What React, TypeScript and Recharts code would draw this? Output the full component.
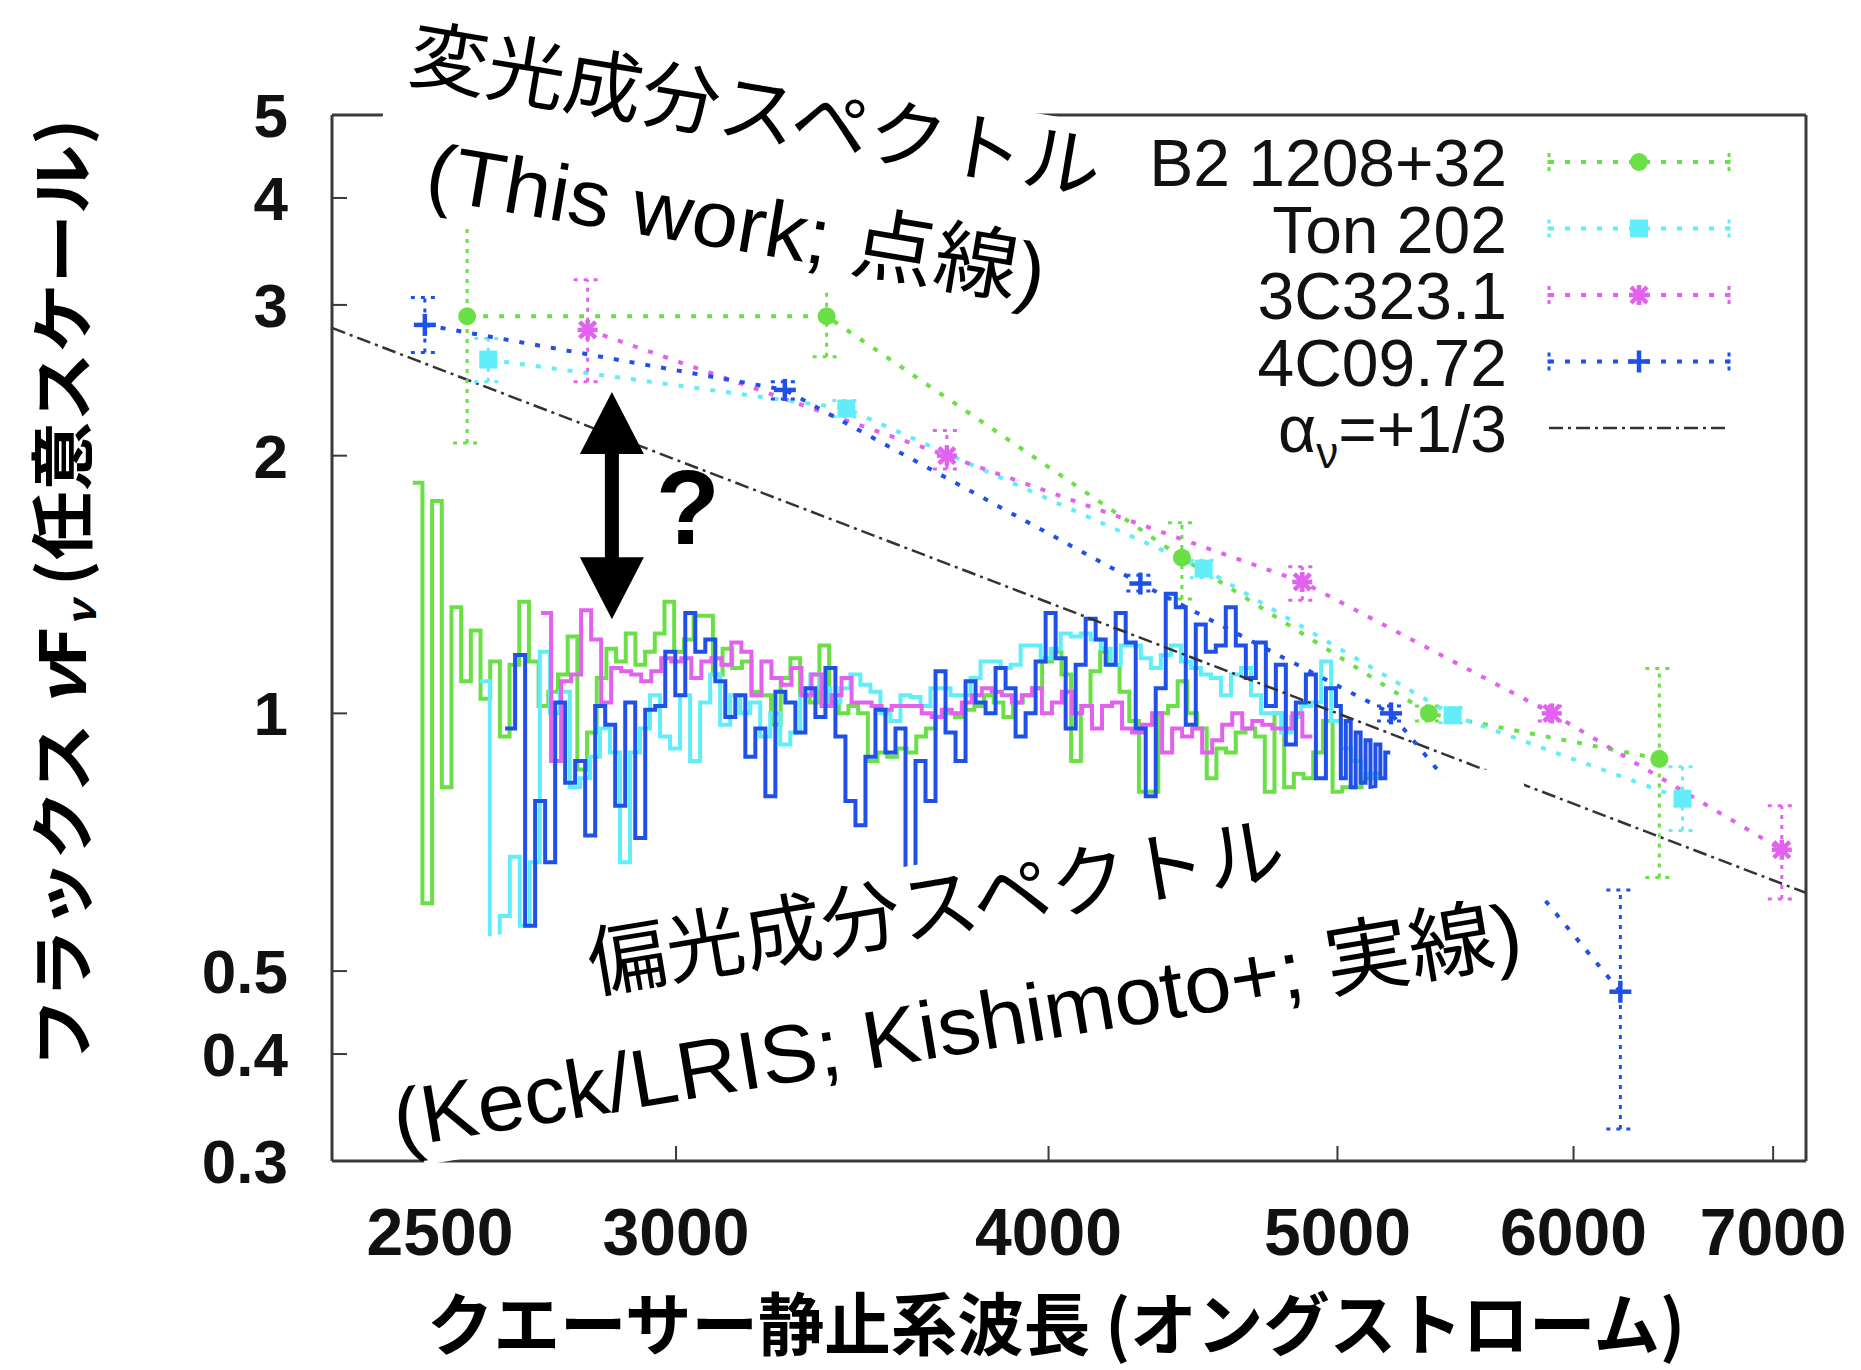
import React from 'react';
import { ComposedChart, Line, XAxis, YAxis, ErrorBar, ReferenceLine } from 'recharts';

const WIDTH = 1861;
const HEIGHT = 1370;

const FRAME = '#3a3a3a';
const SANS = '"Liberation Sans", Arial, sans-serif';
const JP = '"Noto Sans CJK JP", sans-serif';
const MIXED = '"Liberation Sans", "Noto Sans CJK JP", sans-serif';

const GREEN = '#6ae046';
const CYAN = '#62eef9';
const MAGENTA = '#e262ef';
const BLUE = '#1f50e8';

const xTicks = [2500, 3000, 4000, 5000, 6000, 7000];
const yTicks = [0.3, 0.4, 0.5, 1, 2, 3, 4, 5];

// variable component (this work): rest wavelength [A], nuFnu, error range
const b2Wave = [2553, 3370, 4434, 5366, 6411];
const b2Flux = [2.91, 2.91, 1.52, 1.0, 0.885];
const b2Low = [2.07, 2.61, 1.36, 0.98, 0.643];
const b2High = [3.9, 3.3, 1.67, 1.02, 1.128];

const tonWave = [2595, 3422, 4509, 5465, 6527];
const tonFlux = [2.59, 2.27, 1.476, 0.995, 0.795];
const tonLow = [2.44, 2.22, 1.44, 0.975, 0.73];
const tonHigh = [2.74, 2.32, 1.51, 1.015, 0.866];

const c3Wave = [2802, 3698, 4866, 5900, 7047];
const c3Flux = [2.805, 2.0, 1.424, 1.0, 0.693];
const c3Low = [2.44, 1.93, 1.356, 0.98, 0.607];
const c3High = [3.21, 2.14, 1.483, 1.02, 0.78];

const c4Wave = [2471, 3263, 4294, 5211, 6221];
const c4Flux = [2.843, 2.387, 1.418, 1.0, 0.473];
const c4Low = [2.64, 2.33, 1.39, 0.98, 0.327];
const c4High = [3.06, 2.44, 1.45, 1.02, 0.622];

// alpha_nu = +1/3 power law, normalised at 5000 A
const alphaWave = [2300, 7180];
const alphaFlux = [2.82, 0.617];

// polarized-flux spectra (Keck/LRIS), bins evenly spaced in log wavelength
const b2SpecRange = [2448, 5171];
const b2Spec = [
  1.86, 0.6, 1.77, 0.82, 1.33, 1.09, 1.25, 1.04, 1.15, 0.94,
  1.14, 1.35, 1.15, 1.02, 1.06, 1.11, 1.23, 0.86, 0.95, 1.1,
  1.19, 1.15, 1.24, 1.14, 1.18, 1.24, 1.35, 1.18, 1.22, 1.3,
  1.3, 1.11, 1.19, 1.13, 1.15, 1.06, 1.05, 0.97, 1.1, 1.16,
  1.05, 1.03, 1.2, 1.03, 1.0, 1.02, 1.0, 0.88, 0.9, 0.89,
  0.91, 0.9, 0.94, 0.96, 0.99, 1.0, 0.99, 1.01, 1.02, 1.05,
  1.03, 0.99, 1.03, 1.05, 1.07, 1.15, 1.18, 1.11, 0.88, 1.02,
  1.12, 1.18, 1.14, 1.06, 0.98, 0.81, 0.81, 1.0, 1.02, 1.09,
  1.0, 0.96, 0.84, 0.91, 0.9, 0.95, 0.96, 0.94, 0.81, 1.0,
  0.82, 0.85, 0.84, 0.9, 0.98, 0.81, 0.82, 0.82, 0.84, 0.85,
];

const tonSpecRange = [2578, 5172];
const tonSpec = [
  1.09, 0.54, 0.58, 0.68, 0.565, 0.67, 1.18, 1.0, 1.06, 0.82,
  0.84, 0.89, 0.96, 0.9, 0.67, 0.9, 0.96, 1.05, 0.94, 0.91,
  1.05, 0.88, 1.03, 1.11, 0.97, 1.05, 1.0, 1.03, 0.94, 1.0,
  0.92, 0.95, 1.05, 1.11, 1.07, 1.03, 1.07, 1.11, 1.08, 1.06,
  1.0, 0.98, 1.05, 1.045, 1.02, 1.07, 1.07, 1.05, 1.05, 1.1,
  1.15, 1.15, 1.13, 1.14, 1.2, 1.2, 1.16, 1.19, 1.24, 1.23,
  1.24, 1.22, 1.19, 1.14, 1.2, 1.2, 1.16, 1.13, 1.17, 1.2,
  1.15, 1.13, 1.11, 1.1, 1.05, 1.11, 1.13, 1.05, 1.0, 1.0,
  0.95, 0.99, 1.02, 1.03, 1.15, 0.98, 0.91, 0.88, 0.85, 0.84,
];

const c3SpecRange = [2703, 4904];
const c3Spec = [
  1.31, 0.88, 1.09, 1.11, 1.32, 1.22, 1.03, 1.13, 1.12, 1.11,
  1.09, 1.12, 1.16, 1.15, 1.16, 1.1, 1.15, 1.16, 1.14, 1.21,
  1.18, 1.05, 1.15, 1.1, 1.08, 1.13, 1.05, 1.11, 1.02, 1.05,
  1.1, 1.03, 1.03, 1.02, 1.01, 1.02, 1.02, 1.02, 1.0, 0.99,
  1.01, 1.0, 1.03, 1.05, 1.07, 1.06, 1.05, 1.03, 1.05, 1.07,
  1.0, 1.03, 1.06, 1.0, 1.02, 0.96, 1.02, 1.03, 0.96, 0.95,
  0.97, 1.0, 0.9, 0.96, 0.94, 0.96, 0.9, 0.93, 0.97, 1.0,
  0.96, 0.98, 0.97, 0.96, 0.96, 1.0, 0.94,
];

const c4SpecRange = [2629, 4994];
const c4Spec = [
  0.96, 1.17, 0.565, 0.79, 0.67, 1.03, 0.83, 0.88, 0.72, 1.02,
  0.97, 0.78, 1.03, 0.715, 1.01, 1.02, 1.18, 1.05, 1.31, 1.18,
  1.22, 1.09, 0.99, 1.05, 0.89, 0.96, 0.8, 1.06, 1.03, 0.95,
  1.07, 0.99, 1.13, 0.94, 0.79, 0.74, 0.89, 1.01, 0.9, 0.96,
  0.6, 0.88, 0.79, 1.12, 0.95, 0.88, 1.09, 1.03, 1.0, 1.13,
  1.07, 0.94, 1.0, 1.15, 1.31, 1.16, 0.96, 1.14, 1.29, 1.22,
  1.14, 1.31, 1.21, 0.96, 0.8, 1.07, 1.38, 1.33, 0.97, 1.27,
  1.18, 1.2, 1.33, 1.2, 1.1, 1.21, 1.02, 1.14, 0.92, 1.03,
  1.11, 0.84, 1.07,
];
// red end is binned more finely
const c4TailRange = [4994, 5208];
const c4Tail = [1.02, 0.84, 0.98, 0.82, 0.95, 0.83, 0.93, 0.82, 0.92, 0.84, 0.9];

type Pt = { w: number; f: number; err?: number[] };

const toPoints = (wave: number[], flux: number[], lo: number[], hi: number[]): Pt[] =>
  wave.map((w, i) => ({ w, f: flux[i], err: [flux[i] - lo[i], hi[i] - flux[i]] }));

const toSteps = (range: number[], values: number[]): Pt[] => {
  const [lo, hi] = range;
  const n = values.length;
  const pts = values.map((f, i) => ({ w: lo * Math.pow(hi / lo, i / n), f }));
  pts.push({ w: hi, f: values[n - 1] });
  return pts;
};

const series = [
  {
    name: 'B2 1208+32',
    color: GREEN,
    marker: 'circle',
    points: toPoints(b2Wave, b2Flux, b2Low, b2High),
    spectrum: toSteps(b2SpecRange, b2Spec),
  },
  {
    name: 'Ton 202',
    color: CYAN,
    marker: 'square',
    points: toPoints(tonWave, tonFlux, tonLow, tonHigh),
    spectrum: toSteps(tonSpecRange, tonSpec),
  },
  {
    name: '3C323.1',
    color: MAGENTA,
    marker: 'star',
    points: toPoints(c3Wave, c3Flux, c3Low, c3High),
    spectrum: toSteps(c3SpecRange, c3Spec),
  },
  {
    name: '4C09.72',
    color: BLUE,
    marker: 'plus',
    points: toPoints(c4Wave, c4Flux, c4Low, c4High),
    spectrum: [...toSteps(c4SpecRange, c4Spec), ...toSteps(c4TailRange, c4Tail)],
  },
];

const alphaLine = alphaWave.map((w, i) => ({ w, f: alphaFlux[i] }));

// the "?" arrow between the two spectra
const arrowWave = 2855;
const arrowTop = 2.374;
const arrowBottom = 1.288;

const Marker = ({ kind, cx, cy, color }: { kind: string; cx: number; cy: number; color: string }) => {
  if (kind === 'circle') return <circle cx={cx} cy={cy} r={9} fill={color} />;
  if (kind === 'square') return <rect x={cx - 9} y={cy - 9} width={18} height={18} fill={color} />;
  if (kind === 'star')
    return (
      <g stroke={color} strokeWidth={4.5}>
        <line x1={cx - 10} x2={cx + 10} y1={cy} y2={cy} />
        <line x1={cx} x2={cx} y1={cy - 10} y2={cy + 10} />
        <line x1={cx - 8} y1={cy - 8} x2={cx + 8} y2={cy + 8} />
        <line x1={cx - 8} y1={cy + 8} x2={cx + 8} y2={cy - 8} />
      </g>
    );
  return (
    <g stroke={color} strokeWidth={4.5}>
      <line x1={cx - 11} x2={cx + 11} y1={cy} y2={cy} />
      <line x1={cx} x2={cx} y1={cy - 11} y2={cy + 11} />
    </g>
  );
};

const XTick = (props: any) => {
  const { x, y, payload } = props;
  return (
    <g>
      <line x1={x} y1={y} x2={x} y2={y - 15} stroke={FRAME} strokeWidth={2} />
      <text x={x} y={y + 94} textAnchor="middle" fontSize={66} fontWeight={700} fontFamily={SANS} fill="#111">
        {payload.value}
      </text>
    </g>
  );
};

const YTick = (props: any) => {
  const { x, y, payload } = props;
  return (
    <g>
      <line x1={x} y1={y} x2={x + 15} y2={y} stroke={FRAME} strokeWidth={2} />
      <text x={x - 44} y={y + 22} textAnchor="end" fontSize={62} fontWeight={700} fontFamily={SANS} fill="#111">
        {payload.value}
      </text>
    </g>
  );
};

const ArrowShape = (props: any) => {
  const { x1, y1, y2 } = props;
  const top = Math.min(y1, y2);
  const bottom = Math.max(y1, y2);
  const head = 62;
  const half = 32;
  return (
    <g>
      <rect x={x1 - 7} y={top + head - 2} width={14} height={bottom - top - 2 * head + 4} fill="#000" />
      <polygon points={`${x1},${top} ${x1 - half},${top + head} ${x1 + half},${top + head}`} fill="#000" />
      <polygon points={`${x1},${bottom} ${x1 - half},${bottom - head} ${x1 + half},${bottom - head}`} fill="#000" />
      <text x={x1 + 76} y={(top + bottom) / 2 + 38} textAnchor="middle" fontSize={105} fontWeight={700} fontFamily={SANS} fill="#000">
        ?
      </text>
    </g>
  );
};

const Legend = () => (
  <g>
    {series.map((s, i) => {
      const base = 186 + i * 66.5;
      const mid = base - 24;
      return (
        <g key={s.name}>
          <text x={1507} y={base} textAnchor="end" fontSize={66} fontFamily={SANS} fill="#111">
            {s.name}
          </text>
          <line x1={1549} x2={1729} y1={mid} y2={mid} stroke={s.color} strokeWidth={4} strokeDasharray="5 11" />
          <line x1={1549} x2={1549} y1={mid - 9} y2={mid + 9} stroke={s.color} strokeWidth={3} strokeDasharray="4 3" />
          <line x1={1729} x2={1729} y1={mid - 9} y2={mid + 9} stroke={s.color} strokeWidth={3} strokeDasharray="4 3" />
          <Marker kind={s.marker} cx={1639} cy={mid} color={s.color} />
        </g>
      );
    })}
    <text x={1507} y={186 + 4 * 66.5} textAnchor="end" fontSize={66} fontFamily={SANS} fill="#111">
      α<tspan fontSize={44} dy={16}>ν</tspan>
      <tspan dy={-16}>=+1/3</tspan>
    </text>
    <line x1={1549} x2={1729} y1={162 + 4 * 66.5} y2={162 + 4 * 66.5} stroke="#333" strokeWidth={2.5} strokeDasharray="14 5 3 5" />
  </g>
);

const Overlay = () => (
  <svg width={WIDTH} height={HEIGHT} style={{ position: 'absolute', left: 0, top: 0, pointerEvents: 'none' }}>
    {/* white label panels */}
    <rect x={-367} y={-103} width={735} height={207} fill="#fff" transform="translate(746 169) rotate(9.5)" />
    <rect x={-573} y={-107} width={1147} height={215} fill="#fff" transform="translate(972 964) rotate(-9.5)" />

    <text x={406} y={80} transform="rotate(9.5 406 80)" fontSize={76} fontFamily={MIXED} fill="#000" textLength={700} lengthAdjust="spacingAndGlyphs">
      変光成分スペクトル
    </text>
    <text x={423} y={198} transform="rotate(9.5 423 198)" fontSize={80} fontFamily={MIXED} fill="#000" textLength={626} lengthAdjust="spacingAndGlyphs">
      (This work; 点線)
    </text>
    <text x={593} y={992} transform="rotate(-9.5 593 992)" fontSize={78} fontFamily={MIXED} fill="#000" textLength={705} lengthAdjust="spacingAndGlyphs">
      偏光成分スペクトル
    </text>
    <text x={398} y={1148} transform="rotate(-9.5 398 1148)" fontSize={82} fontFamily={MIXED} fill="#000" textLength={1143} lengthAdjust="spacingAndGlyphs">
      (Keck/LRIS; Kishimoto+; 実線)
    </text>

    <Legend />

    <text x={1056} y={1350} textAnchor="middle" fontFamily={JP} fontWeight={700} fontSize={68} fill="#000" textLength={1258} lengthAdjust="spacingAndGlyphs">
      クエーサー静止系波長 (オングストローム)
    </text>
    <text transform="translate(86 593) rotate(-90)" textAnchor="middle" fontFamily={JP} fontWeight={700} fontSize={64} fill="#000" textLength={949} lengthAdjust="spacingAndGlyphs">
      {'フラックス\u00a0'}
      <tspan fontStyle="italic">ν</tspan>F<tspan fontSize={40} dy={10} fontStyle="italic">ν</tspan>
      <tspan dy={-10}>{'\u00a0(任意スケール)'}</tspan>
    </text>
  </svg>
);

const App: React.FC = () => {
  const logX = { type: 'number' as const, scale: 'log' as const, domain: [2300, 7180], allowDataOverflow: true, ticks: xTicks, interval: 0 as const };
  const logY = { type: 'number' as const, scale: 'log' as const, domain: [0.3, 5], allowDataOverflow: true, ticks: yTicks, interval: 0 as const };
  const frameLine = { stroke: FRAME, strokeWidth: 3 };

  return (
    <div style={{ position: 'absolute', left: 0, top: 0, width: WIDTH, height: HEIGHT, background: '#fff', overflow: 'hidden' }}>
      <ComposedChart width={WIDTH} height={HEIGHT} margin={{ top: 115, right: 55, bottom: 109, left: 232 }}>
        <XAxis dataKey="w" {...logX} height={100} tickSize={0} tickMargin={0} tickLine={false} axisLine={frameLine} tick={XTick} />
        <XAxis xAxisId="top" orientation="top" mirror dataKey="w" {...logX} tick={false} tickSize={15} tickLine={{ stroke: FRAME, strokeWidth: 2 }} axisLine={frameLine} />
        <YAxis {...logY} width={100} tickSize={0} tickMargin={0} tickLine={false} axisLine={frameLine} tick={YTick} />
        <YAxis yAxisId="right" orientation="right" mirror {...logY} tick={false} tickSize={15} tickLine={{ stroke: FRAME, strokeWidth: 2 }} axisLine={frameLine} />

        {series.map((s) => (
          <Line
            key={`spec-${s.name}`}
            data={s.spectrum}
            dataKey="f"
            type="stepAfter"
            stroke={s.color}
            strokeWidth={4}
            dot={false}
            activeDot={false}
            isAnimationActive={false}
          />
        ))}

        <Line
          data={alphaLine}
          dataKey="f"
          type="linear"
          stroke="#333"
          strokeWidth={2.5}
          strokeDasharray="14 5 3 5"
          dot={false}
          activeDot={false}
          isAnimationActive={false}
        />

        {series.map((s) => (
          <Line
            key={`pts-${s.name}`}
            data={s.points}
            dataKey="f"
            type="linear"
            stroke={s.color}
            strokeWidth={4}
            strokeDasharray="5 11"
            activeDot={false}
            isAnimationActive={false}
            dot={(p: any) => <Marker key={`m-${s.name}-${p.index}`} kind={s.marker} cx={p.cx} cy={p.cy} color={s.color} />}
          >
            <ErrorBar dataKey="err" direction="y" width={14} stroke={s.color} strokeWidth={3} strokeDasharray="4 6" isAnimationActive={false} />
          </Line>
        ))}

        <ReferenceLine
          segment={[
            { x: arrowWave, y: arrowTop },
            { x: arrowWave, y: arrowBottom },
          ]}
          ifOverflow="visible"
          shape={ArrowShape}
        />
      </ComposedChart>
      <Overlay />
    </div>
  );
};

export default App;
